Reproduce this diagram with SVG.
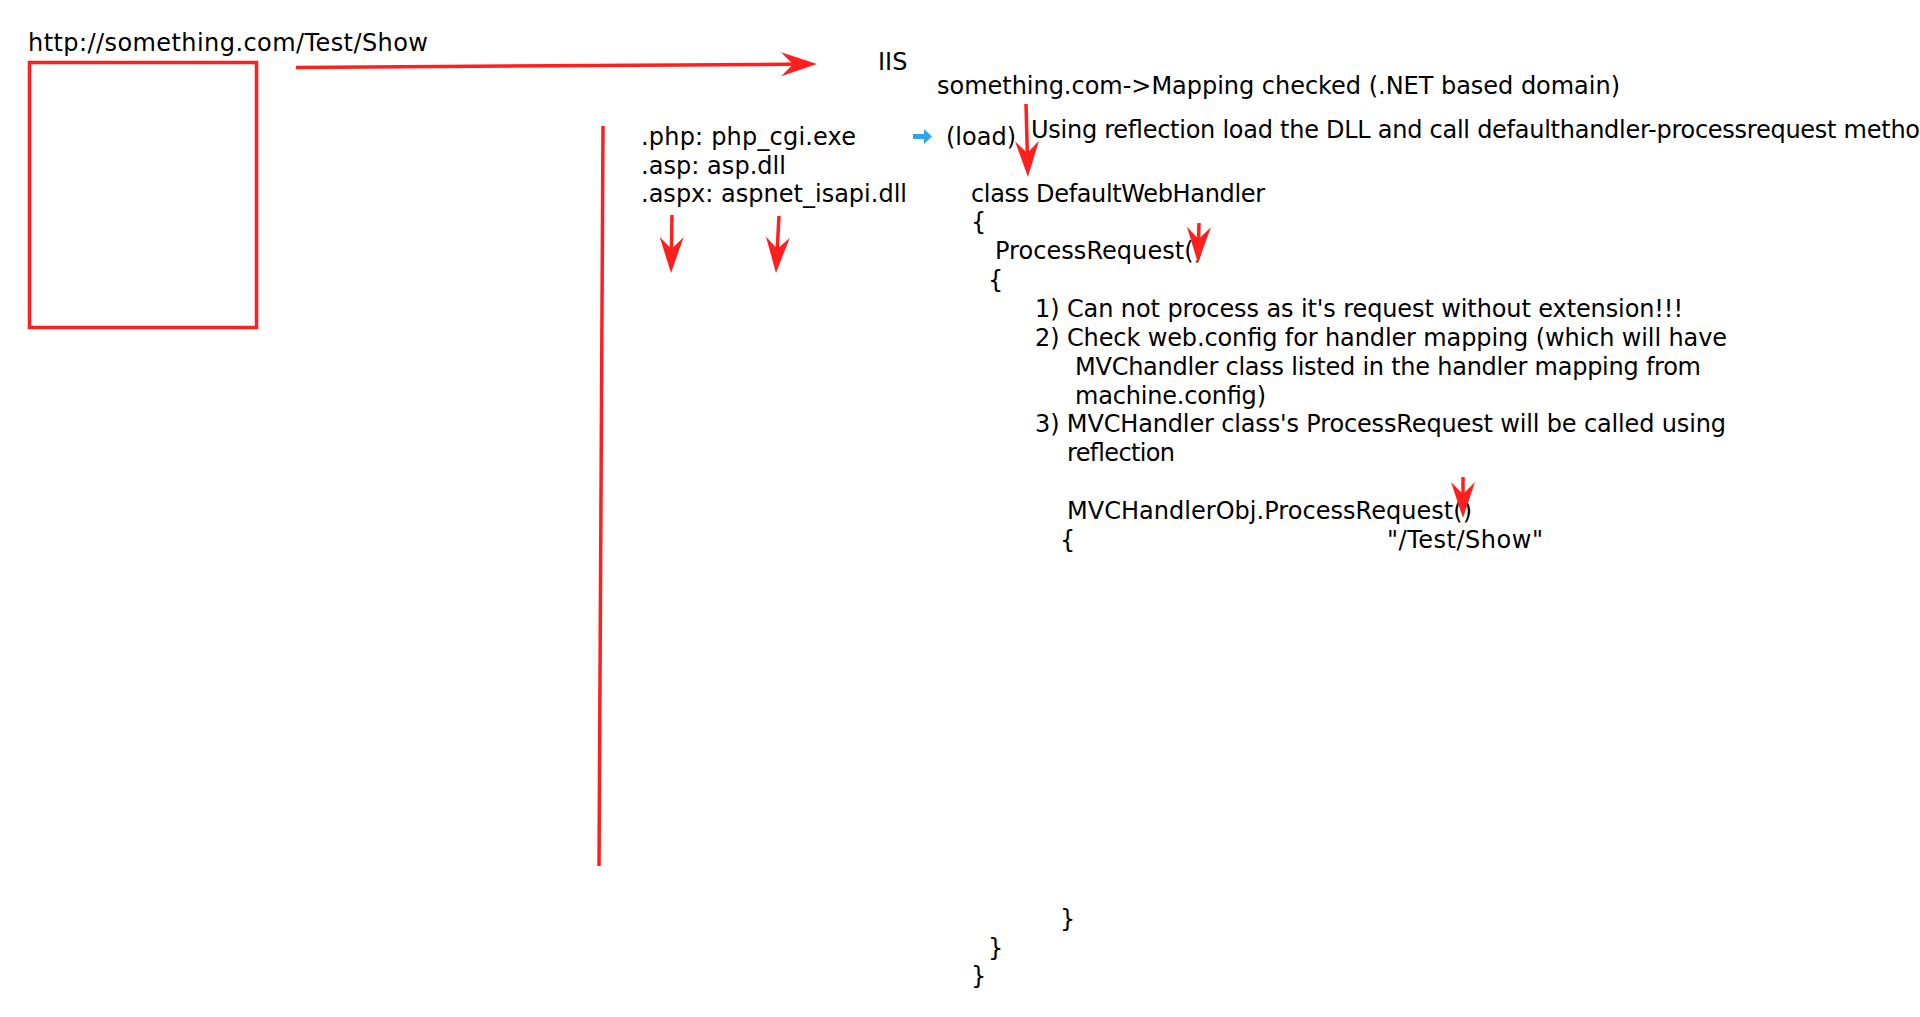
<svg xmlns="http://www.w3.org/2000/svg" width="1920" height="1017" viewBox="0 0 1920 1017">
<style>
text{font-family:"DejaVu Sans","Verdana",sans-serif;font-size:24px;fill:#000}
.red{stroke:#FF1F1F;stroke-width:3.5;fill:none}
</style>
<defs>
<marker id="ah" markerUnits="userSpaceOnUse" markerWidth="36" markerHeight="24" refX="26" refY="12" orient="auto" viewBox="0 0 36 24">
<path d="M0,0 L36,12 L0,24 L12,12 Z" fill="#FF1F1F"/>
</marker>
</defs>
<rect width="1920" height="1017" fill="#fff"/>
<g id="url">
<text x="28" y="51" textLength="400">http://something.com/Test/Show</text>
<rect x="29.5" y="62.5" width="227" height="265" class="red"/>
</g>
<g id="iis">
<text x="878" y="70">IIS</text>
<text x="937" y="94" textLength="683">something.com-&gt;Mapping checked (.NET based domain)</text>
</g>
<g id="mappings">
<text x="641" y="145" textLength="215">.php: php_cgi.exe</text>
<text x="641" y="174" textLength="145">.asp: asp.dll</text>
<text x="641" y="202" textLength="266">.aspx: aspnet_isapi.dll</text>
</g>
<g id="load">
<path d="M913,134 H924 V129 L932,136.5 L924,144 V139 H913 Z" fill="#2EA3F2"/>
<text x="946" y="145" textLength="70">(load)</text>
<text x="1031" y="138" textLength="904">Using reflection load the DLL and call defaulthandler-processrequest method</text>
</g>
<g id="handler">
<text x="971" y="202" textLength="294">class DefaultWebHandler</text>
<text x="971" y="230">{</text>
<text x="995" y="259" textLength="208">ProcessRequest()</text>
<text x="988" y="288">{</text>
<text x="1035" y="317" textLength="648">1) Can not process as it's request without extension!!!</text>
<text x="1035" y="346" textLength="692">2) Check web.config for handler mapping (which will have</text>
<text x="1075" y="375" textLength="626">MVChandler class listed in the handler mapping from</text>
<text x="1075" y="404" textLength="191">machine.config)</text>
<text x="1035" y="432" textLength="691">3) MVCHandler class's ProcessRequest will be called using</text>
<text x="1067" y="461" textLength="108">reflection</text>
<text x="1067" y="519" textLength="405">MVCHandlerObj.ProcessRequest()</text>
<text x="1060" y="548">{</text>
<text x="1387" y="548" textLength="156">"/Test/Show"</text>
<text x="1060" y="927">}</text>
<text x="988" y="956">}</text>
<text x="971" y="984">}</text>
</g>
<g id="connectors">
<path class="red" d="M296,67.5 L807,64.1" marker-end="url(#ah)"/>
<path class="red" d="M1026,104 L1027.7,167" marker-end="url(#ah)"/>
<path class="red" d="M1199,223 L1198.2,253" marker-end="url(#ah)"/>
<path class="red" d="M1463,477 L1463,508" marker-end="url(#ah)"/>
<path class="red" d="M672,215 L671.2,263" marker-end="url(#ah)"/>
<path class="red" d="M779,216 L776.5,263" marker-end="url(#ah)"/>
<path class="red" d="M603,126 L599,866"/>
</g>
</svg>
